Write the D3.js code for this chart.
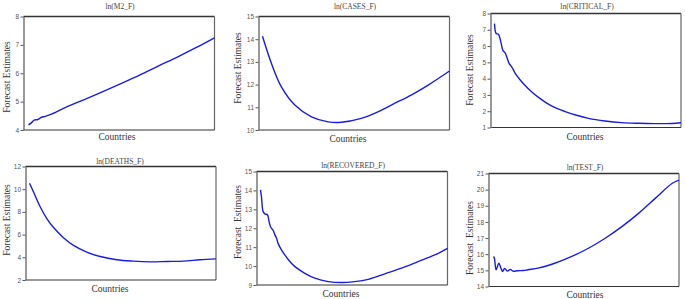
<!DOCTYPE html>
<html>
<head>
<meta charset="utf-8">
<script src="https://cdn.jsdelivr.net/npm/d3@7"></script>
<style>
  html, body { margin: 0; padding: 0; background: #fff; }
  svg { display: block; }
</style>
</head>
<body>
<svg id="chart" width="685" height="299"></svg>
<script>
// ---- Data (country index 0..100, forecast value) ----
const titles = ["ln(M2_F)", "ln(CASES_F)", "ln(CRITICAL_F)", "ln(DEATHS_F)", "ln(RECOVERED_F)", "ln(TEST_F)"];
const yLabels = ["Forecast Estimates", "Forecast Estimates", "Forecast Estimates", "Forecast Estimates", "Forecast  Estimates", "Forecast  Estimates"];
const xLabel = "Countries";

const m2Index = [0, 1.5, 3, 5, 7, 9, 12, 20, 30, 40, 50, 60, 70, 80, 90, 100];
const m2Values = [4.18, 4.25, 4.35, 4.37, 4.45, 4.48, 4.55, 4.8, 5.07, 5.35, 5.64, 5.94, 6.26, 6.57, 6.9, 7.25];

const casesIndex = [0, 4.8, 10.1, 17.3, 26.2, 35.1, 42.2, 52.8, 61.7, 70.6, 79.5, 88.4, 100];
const casesValues = [14.13, 12.93, 11.9, 11.1, 10.58, 10.36, 10.34, 10.51, 10.8, 11.17, 11.54, 11.97, 12.6];

const criticalIndex = [0, 0.9, 2.1, 3.6, 4.5, 5.7, 6.6, 7.9, 9.3, 11.1, 13.8, 16.4, 20, 23.6, 28, 32.5, 37.9, 44, 50.4, 59.3, 68.2, 77.1, 86.1, 95, 100];
const criticalValues = [7.38, 6.77, 6.73, 6.15, 5.74, 5.58, 5.33, 4.92, 4.71, 4.33, 3.92, 3.58, 3.18, 2.85, 2.5, 2.22, 1.98, 1.75, 1.56, 1.4, 1.3, 1.26, 1.24, 1.25, 1.29];

const deathsIndex = [0, 2.1, 5.7, 9.3, 12.9, 18.2, 23.6, 30.7, 37.9, 46.8, 55.7, 64.6, 73.6, 82.5, 91.4, 100];
const deathsValues = [10.52, 9.78, 8.45, 7.41, 6.62, 5.73, 5.05, 4.46, 4.07, 3.78, 3.66, 3.6, 3.63, 3.66, 3.78, 3.86];

const recoveredIndex = [0, 0.5, 1.4, 2.3, 3.7, 4.6, 5.5, 6.8, 7.7, 8.6, 9.4, 11.2, 13.0, 15.7, 18.4, 23.7, 29.1, 36.2, 43.3, 50.4, 57.6, 66.5, 75.4, 84.3, 93.2, 100];
const recoveredValues = [14.03, 13.68, 12.88, 12.76, 12.71, 12.35, 12.05, 11.88, 11.65, 11.47, 11.2, 10.86, 10.59, 10.24, 9.97, 9.62, 9.36, 9.18, 9.13, 9.18, 9.30, 9.59, 9.89, 10.24, 10.59, 10.94];

const testIndex = [0, 0.5, 1.4, 2.9, 4.1, 5.0, 6.0, 7.6, 9.0, 10.6, 13, 16.2, 18.6, 24, 29.4, 33, 42.2, 51.2, 60.2, 69.2, 78.2, 87.2, 96.2, 100];
const testValues = [15.86, 15.75, 15.04, 15.44, 15.1, 14.93, 15.12, 14.95, 15.06, 14.95, 14.98, 14.99, 15.04, 15.14, 15.3, 15.44, 15.86, 16.37, 16.99, 17.71, 18.53, 19.46, 20.38, 20.59];

const yTicks = [
  [4, 5, 6, 7, 8],
  [10, 11, 12, 13, 14, 15],
  [1, 2, 3, 4, 5, 6, 7, 8],
  [2, 4, 6, 8, 10, 12],
  [9, 10, 11, 12, 13, 14, 15],
  [14, 15, 16, 17, 18, 19, 20, 21]
];

const seriesIndex = [m2Index, casesIndex, criticalIndex, deathsIndex, recoveredIndex, testIndex];
const seriesValues = [m2Values, casesValues, criticalValues, deathsValues, recoveredValues, testValues];

// ---- Layout ----
const panels = [
  { l: 23.5, r: 214.5, t: 16.5, b: 130, pad: 5, title: [120, 8.5], xl: [117, 139.5], yl: [7, 77] },
  { l: 258.5, r: 449.5, t: 16.5, b: 130, pad: 4, title: [355, 8.5], xl: [348, 141.5], yl: [238, 68] },
  { l: 490.5, r: 681, t: 13.5, b: 127.5, pad: 4, title: [587, 8.5], xl: [585, 139.5], yl: [470, 70] },
  { l: 25.5, r: 216, t: 166.5, b: 280, pad: 4, title: [120, 163.5], xl: [110, 291.5], yl: [7, 220] },
  { l: 256.5, r: 447.5, t: 171.5, b: 285, pad: 4, title: [353, 167.5], xl: [341, 296.5], yl: [238, 222] },
  { l: 488.5, r: 679, t: 173.5, b: 286.5, pad: 5, title: [585, 169.5], xl: [585, 298], yl: [470, 238] }
];

const svg = d3.select("#chart");

panels.forEach((p, i) => {
  const ticks = yTicks[i];
  const x = d3.scaleLinear().domain([0, 100]).range([p.l + p.pad, p.r]);
  const y = d3.scaleLinear().domain([ticks[0], ticks[ticks.length - 1]]).range([p.b, p.t]);
  const g = svg.append("g");

  // frame (top/right/bottom)
  g.append("line").attr("x1", p.l).attr("x2", p.r).attr("y1", p.t).attr("y2", p.t)
    .attr("stroke", "#333").attr("stroke-width", 1.3);
  g.append("line").attr("x1", p.r).attr("x2", p.r).attr("y1", p.t).attr("y2", p.b)
    .attr("stroke", "#666").attr("stroke-width", 1.2);
  g.append("line").attr("x1", p.l).attr("x2", p.r).attr("y1", p.b).attr("y2", p.b)
    .attr("stroke", "#333").attr("stroke-width", 1.2);

  // left axis
  const ax = g.append("g").attr("transform", `translate(${p.l},0)`)
    .call(d3.axisLeft(y).tickValues(ticks).tickSize(3).tickSizeOuter(0).tickPadding(1.5).tickFormat(d3.format("d")));
  ax.select(".domain").attr("stroke", "#777").attr("stroke-width", 1.5);
  ax.selectAll(".tick line").attr("stroke", "#555");
  ax.selectAll(".tick text").attr("fill", "#555")
    .style("font-family", "'Liberation Sans', Arial, sans-serif").style("font-size", "6.5px");

  // line
  const pts = seriesIndex[i].map((c, k) => [c, seriesValues[i][k]]);
  g.append("path").datum(pts)
    .attr("fill", "none").attr("stroke", "#1a1ae6").attr("stroke-width", 1.4)
    .attr("stroke-linejoin", "round")
    .attr("d", d3.line().x(d => x(d[0])).y(d => y(d[1])).curve(d3.curveCatmullRom.alpha(0.5)));

  // texts
  g.append("text").attr("x", p.title[0]).attr("y", p.title[1]).attr("text-anchor", "middle")
    .attr("fill", "#444").style("font-family", "'Liberation Serif', 'Times New Roman', serif").style("font-size", "7.5px")
    .text(titles[i]);
  g.append("text").attr("x", p.xl[0]).attr("y", p.xl[1]).attr("text-anchor", "middle")
    .attr("fill", "#333").style("font-family", "'Liberation Serif', 'Times New Roman', serif").style("font-size", "9.5px")
    .text(xLabel);
  g.append("text").attr("transform", `translate(${p.yl[0] + 3},${p.yl[1]}) rotate(-90)`).attr("text-anchor", "middle")
    .attr("fill", "#333").style("font-family", "'Liberation Serif', 'Times New Roman', serif").style("font-size", "9.5px")
    .style("white-space", "pre")
    .text(yLabels[i]);
});
</script>
</body>
</html>
